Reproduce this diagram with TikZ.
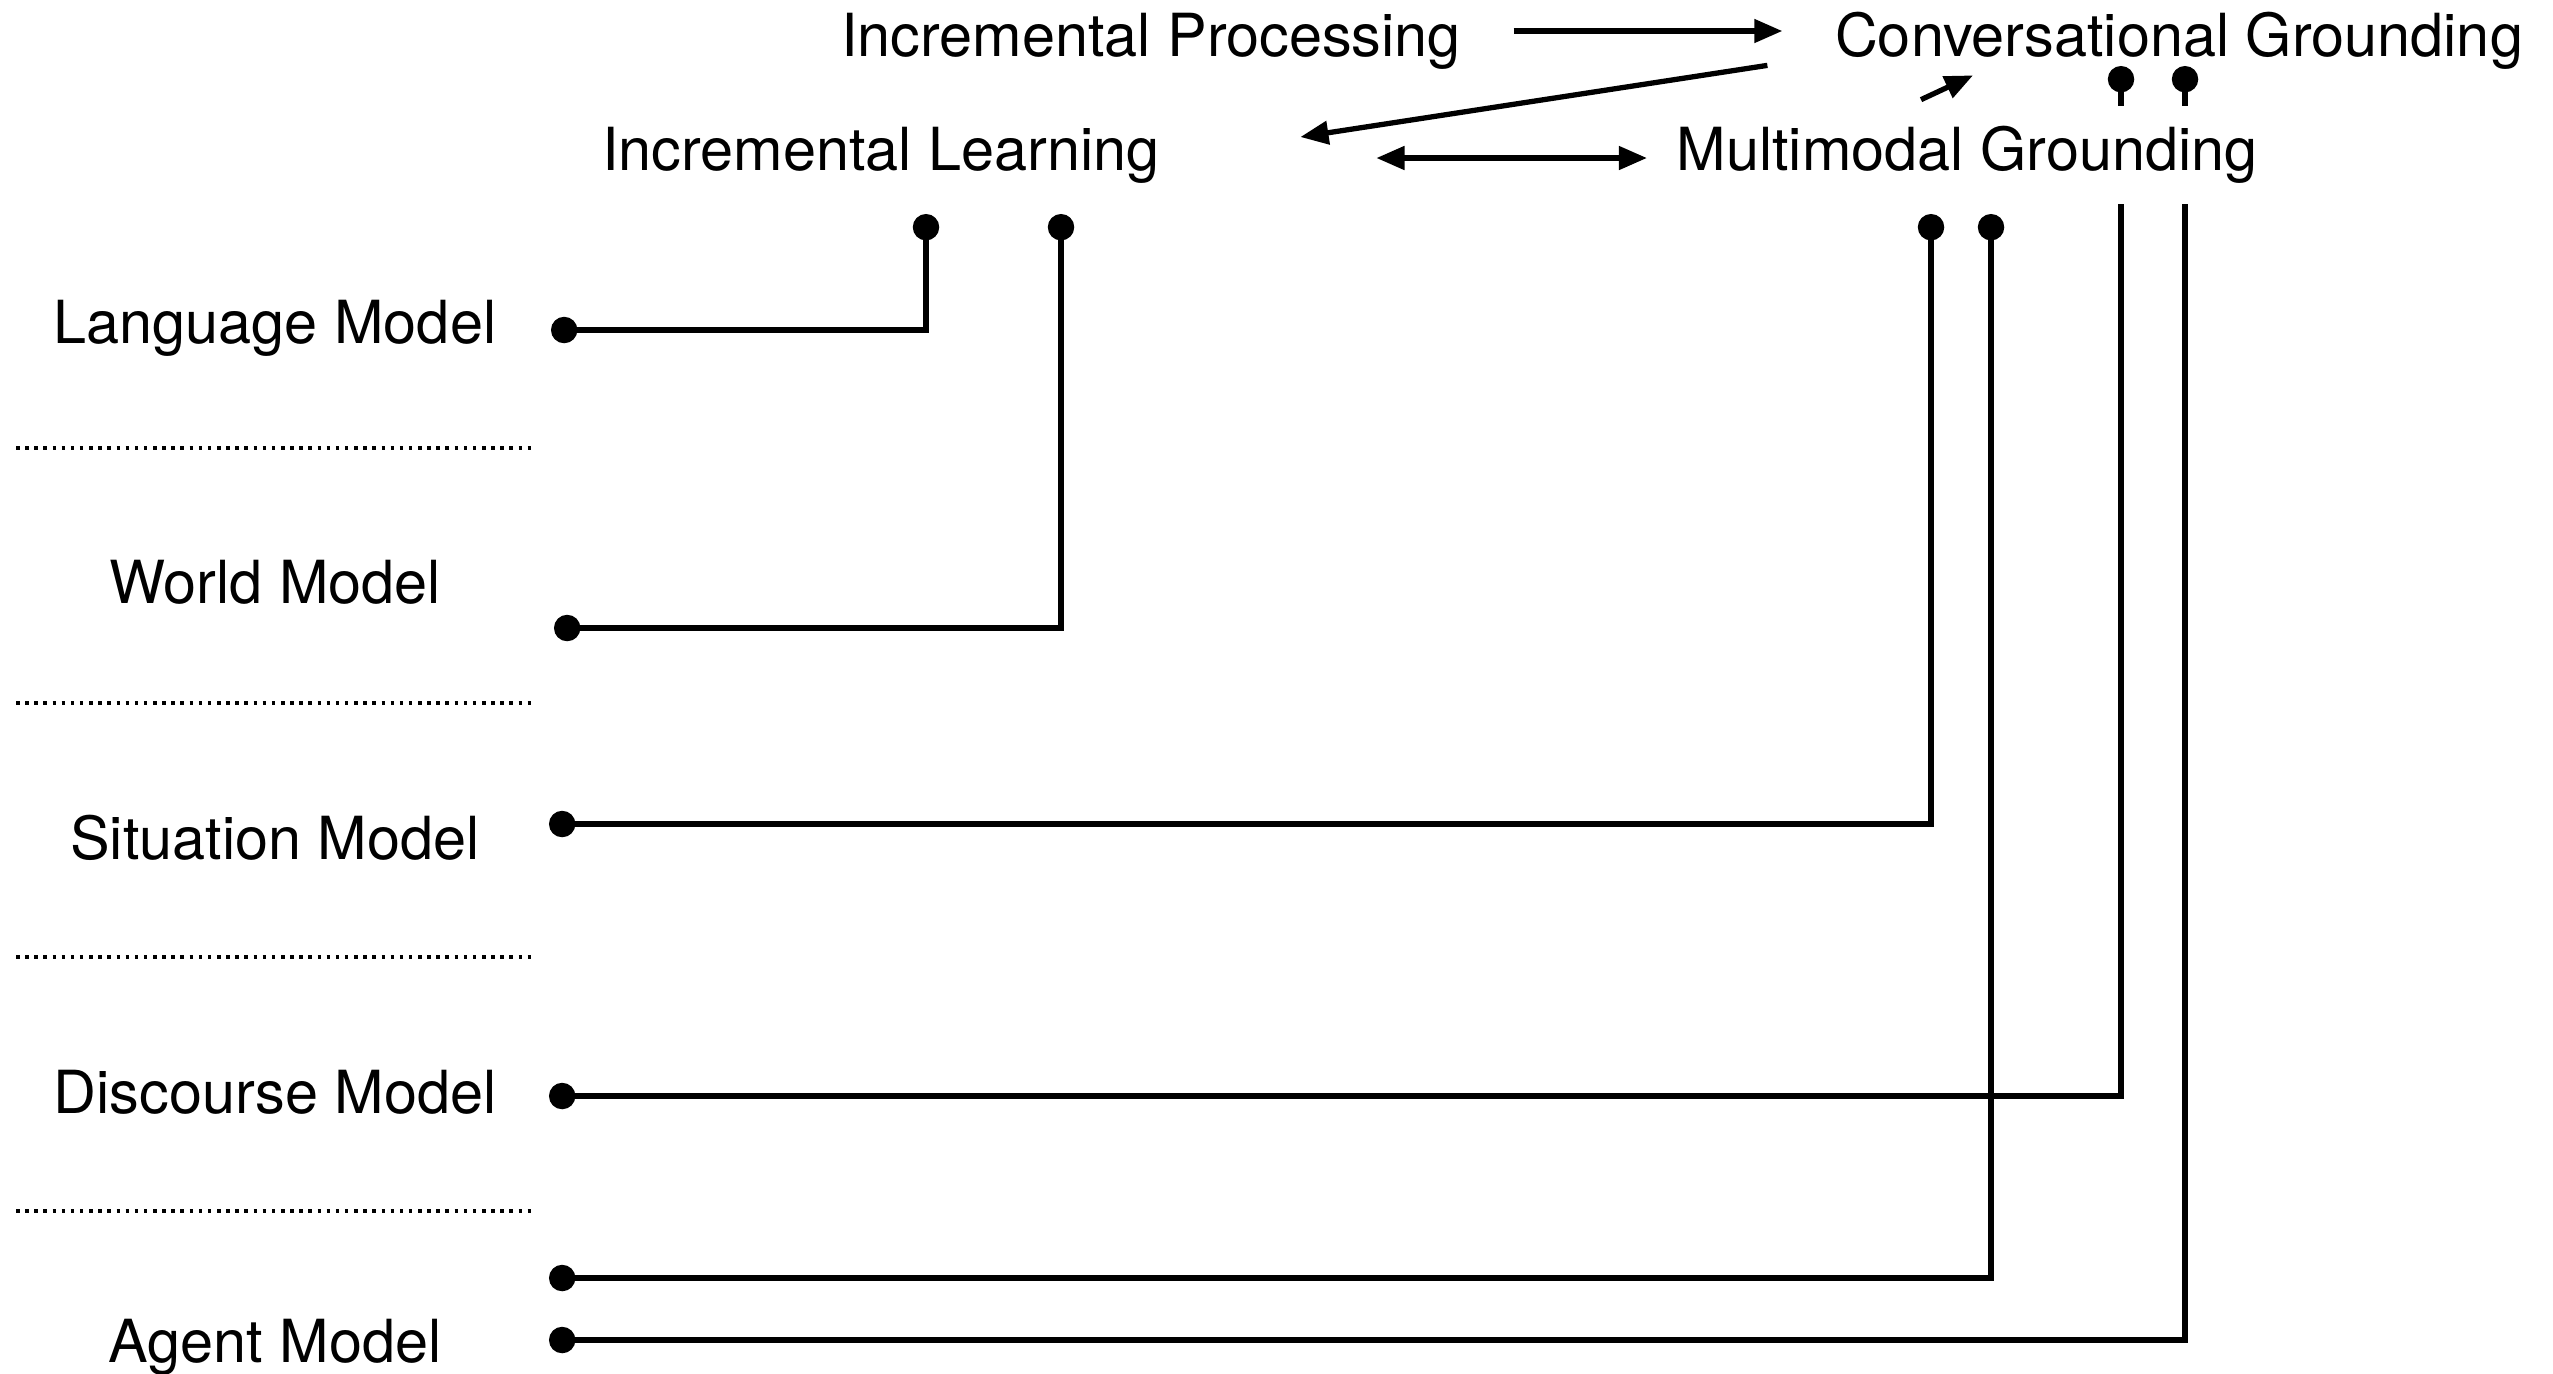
\documentclass[tikz,border=0pt]{standalone}
\usepackage{fontspec}
\setmainfont{TeX Gyre Heros}
\usetikzlibrary{arrows.meta,backgrounds}

\tikzset{
    lbl/.style={inner sep=0pt, font=\fontsize{16.9}{20}\selectfont},
    arr/.style={line width=1.5pt, -{Triangle[length=8pt,width=6.5pt]}},
    arrboth/.style={line width=1.5pt, {Triangle[length=8pt,width=6.5pt]}-{Triangle[length=8pt,width=6.5pt]}},
    wire/.style={line width=1.5pt, {Circle[length=7.5pt]}-{Circle[length=7.5pt]}},
    sep/.style={line width=1pt, dash pattern=on 1pt off 1.6pt},
}

\begin{document}
\begin{tikzpicture}
    \useasboundingbox (0,0) rectangle (25.53,-13.73);

    % top nodes
    \node[lbl] (procinc) at (11.51, -0.41) {Incremental Processing};
    \node[lbl] (convgr) at (21.79, -0.41) {Conversational Grounding};
    \node[lbl] (learninc) at (8.81, -1.55) {Incremental Learning};
    \node[lbl, fill=white, inner ysep=0.2cm] (multigr) at (19.67, -1.55) {Multimodal Grounding};

    % models on the left
    \node[lbl] (langmodel) at (2.75, -3.28) {Language Model};
    \node[lbl] (worldmodel) at (2.75, -5.82) {World Model};
    \node[lbl] (sitmodel) at (2.75, -8.38) {Situation Model};
    \node[lbl] (discmodel) at (2.75, -10.92) {Discourse Model};
    \node[lbl] (agentmodel) at (2.75, -13.47) {Agent Model};

    \foreach \y in {4.48, 7.03, 9.57, 12.11}
        \draw[sep] (0.16, -\y) -- (5.34, -\y);

    % ports
    \coordinate (langmodel-out) at (5.51, -3.30);
    \coordinate (worldmodel-out) at (5.54, -6.28);
    \coordinate (sitmodel-out) at (5.49, -8.24);
    \coordinate (discmodel-out) at (5.49, -10.96);
    \coordinate (agentmodel-out1) at (5.49, -12.78);
    \coordinate (agentmodel-out2) at (5.49, -13.40);
    \coordinate (learninc-in1) at (9.26, -2.14);
    \coordinate (learninc-in2) at (10.61, -2.14);
    \coordinate (multigr-in1) at (19.31, -2.14);
    \coordinate (multigr-in2) at (19.91, -2.14);
    \coordinate (convgr-in1) at (21.21, -0.66);
    \coordinate (convgr-in2) at (21.85, -0.66);

    \draw[arr] ([xshift=0.52cm, yshift=0.1cm]procinc.east) -- ([xshift=-0.52cm, yshift=0.1cm]convgr.west);
    \draw[arr] ([xshift=-0.67cm, yshift=0.05cm]convgr.south west) -- ([xshift=1.4cm, yshift=0.18cm]learninc.east);
    \draw[arr] ([xshift=-0.46cm, yshift=0.06cm]multigr.north) -- ([xshift=-2.06cm, yshift=-0.05cm]convgr.south);
    \draw[arrboth] ([xshift=2.16cm, yshift=-0.03cm]learninc.east) -- ([xshift=-0.29cm, yshift=-0.03cm]multigr.west);

    \draw[wire] (langmodel-out) -| (learninc-in1);
    \draw[wire] (worldmodel-out) -| (learninc-in2);
    \draw[wire] (sitmodel-out) -| (multigr-in1);
    \draw[wire] (agentmodel-out1) -| (multigr-in2);
    \begin{scope}[on background layer]
        \draw[wire] (discmodel-out) -| (convgr-in1);
        \draw[wire] (agentmodel-out2) -| (convgr-in2);
    \end{scope}
\end{tikzpicture}
\end{document}
